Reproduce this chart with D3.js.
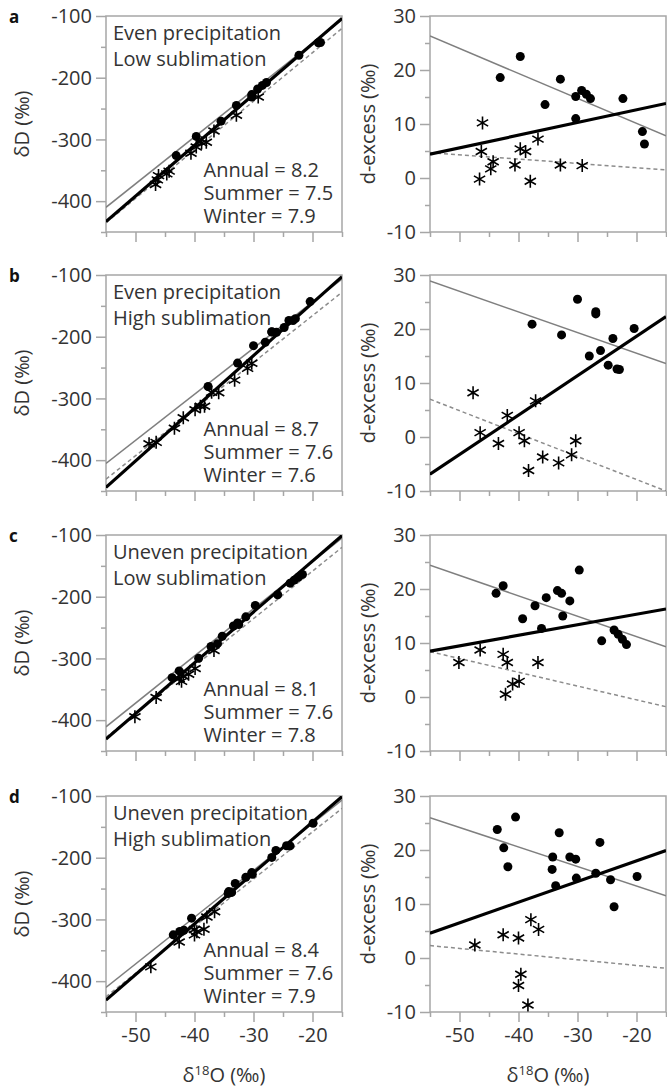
<!DOCTYPE html>
<html>
<head>
<meta charset="utf-8">
<script src="https://cdn.jsdelivr.net/npm/d3@7"></script>
<style>
  body { margin: 0; background: #fff; }
  svg text { font-family: "Open Sans", "Noto Sans", sans-serif; fill: #333; }
</style>
</head>
<body>
<svg id="chart" width="667" height="1088"></svg>
<script>
// panel labels and texts
const panelLetters = ['a', 'b', 'c', 'd'];
const precipLabels = ['Even precipitation', 'Even precipitation', 'Uneven precipitation', 'Uneven precipitation'];
const sublimLabels = ['Low sublimation', 'High sublimation', 'Low sublimation', 'High sublimation'];
const slopeAnnual = ['8.2', '8.7', '8.1', '8.4'];
const slopeSummer = ['7.5', '7.6', '7.6', '7.6'];
const slopeWinter = ['7.9', '7.6', '7.8', '7.9'];

// tick values
const xTicks = [-55, -50, -45, -40, -35, -30, -25, -20, -15];
const xLabels = [-50, -40, -30, -20];
const ddTicks = [-450, -400, -350, -300, -250, -200, -150, -100];
const ddLabels = [-400, -300, -200, -100];
const dexTicks = [-10, -5, 0, 5, 10, 15, 20, 25, 30];
const dexLabels = [-10, 0, 10, 20, 30];

// [d18O, dD] summer (circles) and winter (asterisks)
const ddSummerA = [[-43.1,-326.2],[-39.7,-295.1],[-35.5,-270.4],[-32.9,-244.9],[-30.3,-227.3],[-30.3,-231.4],[-29.3,-218.2],[-28.5,-212.5],[-27.8,-207.7],[-22.3,-163.7],[-19.0,-143.4],[-18.65,-142.9]];
const ddWinterA = [[-46.1,-358.6],[-46.3,-365.5],[-46.6,-373.0],[-44.3,-351.4],[-44.7,-355.9],[-40.6,-322.4],[-39.7,-312.2],[-38.8,-305.5],[-38.0,-304.6],[-36.7,-286.4],[-32.9,-260.8],[-29.2,-231.3]];
const ddSummerB = [[-37.7,-280.7],[-32.7,-242.7],[-30.0,-214.5],[-26.9,-192.0],[-26.9,-192.4],[-28.0,-209.0],[-26.1,-192.8],[-24.0,-173.8],[-24.8,-185.1],[-23.3,-173.8],[-22.9,-170.7],[-20.4,-143.1]];
const ddWinterB = [[-47.7,-373.4],[-46.5,-371.2],[-43.4,-348.4],[-41.9,-331.2],[-39.9,-318.4],[-39.0,-312.7],[-38.3,-312.6],[-37.1,-290.1],[-35.9,-290.9],[-33.2,-270.4],[-31.0,-251.3],[-30.3,-243.1]];
const ddSummerC = [[-43.8,-331.2],[-42.6,-320.2],[-39.3,-299.9],[-37.2,-280.7],[-36.1,-276.1],[-35.3,-264.0],[-33.4,-247.5],[-32.7,-242.4],[-32.5,-245.0],[-31.3,-232.6],[-29.7,-214.1],[-25.9,-196.8],[-23.8,-178.0],[-23.1,-173.2],[-22.4,-168.5],[-21.7,-163.9]];
const ddWinterC = [[-50.1,-394.4],[-46.5,-363.3],[-42.6,-332.9],[-41.9,-328.8],[-42.2,-337.1],[-41.0,-325.6],[-39.9,-316.3],[-36.7,-287.2]];
const ddSummerD = [[-43.6,-325.0],[-42.5,-319.6],[-41.8,-317.5],[-40.5,-297.9],[-33.1,-241.6],[-34.2,-254.9],[-34.3,-258.0],[-33.7,-256.2],[-31.3,-231.7],[-30.3,-224.1],[-30.2,-226.8],[-26.9,-199.5],[-26.2,-188.2],[-24.4,-180.7],[-23.8,-180.9],[-19.9,-144.1]];
const ddWinterD = [[-47.4,-376.8],[-42.6,-336.5],[-40.0,-316.3],[-37.9,-296.1],[-36.6,-287.5],[-39.6,-319.8],[-40.0,-325.1],[-38.4,-315.9]];

// [d18O, d-excess]
const dexSummerA = [[-43.1,18.6],[-39.7,22.5],[-35.5,13.6],[-32.9,18.3],[-30.3,15.1],[-30.3,11.0],[-29.3,16.2],[-28.5,15.5],[-27.8,14.7],[-22.3,14.7],[-19.0,8.6],[-18.65,6.3]];
const dexWinterA = [[-46.1,10.2],[-46.3,4.9],[-46.6,-0.2],[-44.3,3.0],[-44.7,1.7],[-40.6,2.4],[-39.7,5.4],[-38.8,4.9],[-38.0,-0.6],[-36.7,7.2],[-32.9,2.4],[-29.2,2.3]];
const dexSummerB = [[-37.7,20.9],[-32.7,18.9],[-30.0,25.5],[-26.9,23.2],[-26.9,22.8],[-28.0,15.0],[-26.1,16.0],[-24.0,18.25],[-24.8,13.3],[-23.3,12.6],[-22.9,12.5],[-20.4,20.1]];
const dexWinterB = [[-47.7,8.2],[-46.5,0.8],[-43.4,-1.2],[-41.9,4.0],[-39.9,0.8],[-39.0,-0.7],[-38.3,-6.2],[-37.1,6.7],[-35.9,-3.7],[-33.2,-4.8],[-31.0,-3.3],[-30.3,-0.7]];
const dexSummerC = [[-43.8,19.2],[-42.6,20.6],[-39.3,14.5],[-37.2,16.9],[-36.1,12.7],[-35.3,18.4],[-33.4,19.7],[-32.7,19.2],[-32.5,15.0],[-31.3,17.8],[-29.7,23.5],[-25.9,10.4],[-23.8,12.4],[-23.1,11.6],[-22.4,10.7],[-21.7,9.7]];
const dexWinterC = [[-50.1,6.4],[-46.5,8.7],[-42.6,7.9],[-41.9,6.4],[-42.2,0.5],[-41.0,2.4],[-39.9,2.9],[-36.7,6.4]];
const dexSummerD = [[-43.6,23.8],[-42.5,20.4],[-41.8,16.9],[-40.5,26.1],[-33.1,23.2],[-34.2,18.7],[-34.3,16.4],[-33.7,13.4],[-31.3,18.7],[-30.3,18.3],[-30.2,14.8],[-26.9,15.7],[-26.2,21.4],[-24.4,14.5],[-23.8,9.5],[-19.9,15.1]];
const dexWinterD = [[-47.4,2.4],[-42.6,4.3],[-40.0,3.7],[-37.9,7.1],[-36.6,5.3],[-39.6,-3.0],[-40.0,-5.1],[-38.4,-8.7]];

// fitted lines: value at d18O = -55 and at -15
const ddFitAnnual = [[-433, -103.8], [-444, -102.7], [-430.8, -101], [-430.8, -101]];
const ddFitSummer = [[-410, -106], [-405.4, -106.5], [-410.8, -104.9], [-410.3, -106.5]];
const ddFitWinter = [[-435, -120], [-430.8, -128], [-428, -120], [-425.4, -120]];
const dexFitAnnual = [[4.4, 13.8], [-6.9, 22.3], [8.5, 16.3], [4.6, 19.9]];
const dexFitSummer = [[26.3, 7.8], [28.9, 13.6], [24.4, 9.3], [26.0, 11.5]];
const dexFitWinter = [[4.7, 1.5], [7.0, -10.0], [8.4, -1.8], [2.3, -1.9]];

const ddSummer = [ddSummerA, ddSummerB, ddSummerC, ddSummerD];
const ddWinter = [ddWinterA, ddWinterB, ddWinterC, ddWinterD];
const dexSummer = [dexSummerA, dexSummerB, dexSummerC, dexSummerD];
const dexWinter = [dexWinterA, dexWinterB, dexWinterC, dexWinterD];

const tops = [16, 275, 535, 796];
const plotH = 216;
const axisColor = '#a6a6a6';

let svg = d3.select('#chart');

// asterisk marker, 3 strokes through the centre
function asterisk(r) {
	let a = r * Math.cos(Math.PI / 6), b = r * Math.sin(Math.PI / 6);
	return `M0,${-r}L0,${r}M${-a},${-b}L${a},${b}M${-a},${b}L${a},${-b}`;
}

function drawPanel(g, i, left, right, yDomain, yTicks, yLabels, summer, winter, fits, withXLabels, clipId) {
	let top = tops[i];
	let x = d3.scaleLinear().domain([-55, -15]).range([left, right]);
	let y = d3.scaleLinear().domain(yDomain).range([top + plotH, top]);

	// frame
	g.append('rect')
		.attr('x', left).attr('y', top)
		.attr('width', right - left).attr('height', plotH)
		.attr('fill', 'none').attr('stroke', axisColor).attr('stroke-width', 1.5);

	// y axis ticks
	let yAx = g.append('g').attr('transform', `translate(${left},0)`)
		.call(d3.axisLeft(y).tickValues(yTicks).tickSizeOuter(0)
			.tickSize(5).tickPadding(6)
			.tickFormat(d => yLabels.includes(d) ? d3.format('')(d).replace('−', '-') : ''));
	yAx.select('.domain').remove();
	yAx.selectAll('.tick line').attr('stroke', axisColor).attr('stroke-width', 1.5)
		.attr('x2', d => yLabels.includes(d) ? -10 : -5);
	yAx.selectAll('.tick text').attr('x', -14).attr('dy', '0.34em')
		.style('font-size', '20px').style('fill', '#333');

	// x axis ticks
	let xAx = g.append('g').attr('transform', `translate(0,${top + plotH})`)
		.call(d3.axisBottom(x).tickValues(xTicks).tickSizeOuter(0)
			.tickSize(5)
			.tickFormat(d => withXLabels && xLabels.includes(d) ? String(d) : ''));
	xAx.select('.domain').remove();
	xAx.selectAll('.tick line').attr('stroke', axisColor).attr('stroke-width', 1.5)
		.attr('y2', d => d % 10 === 0 ? 10 : 5);
	xAx.selectAll('.tick text').attr('y', 16).attr('dy', '0.71em')
		.style('font-size', '20px').style('fill', '#333');

	// clip to plot area
	svg.select('defs').append('clipPath').attr('id', clipId)
		.append('rect').attr('x', left).attr('y', top).attr('width', right - left).attr('height', plotH);
	let plot = g.append('g').attr('clip-path', `url(#${clipId})`);

	let line = d3.line().x(d => x(d[0])).y(d => y(d[1]));
	let fitPts = f => [[-55, f[0]], [-15, f[1]]];

	plot.append('path').attr('d', line(fitPts(fits.summer)))
		.attr('stroke', '#7f7f7f').attr('stroke-width', 1.5).attr('fill', 'none');
	plot.append('path').attr('d', line(fitPts(fits.winter)))
		.attr('stroke', '#8c8c8c').attr('stroke-width', 1.5).attr('stroke-dasharray', '4,3').attr('fill', 'none');

	plot.selectAll('.summer').data(summer).enter()
		.append('circle').attr('class', 'summer')
		.attr('cx', d => x(d[0])).attr('cy', d => y(d[1]))
		.attr('r', 4.5).attr('fill', '#000');

	plot.selectAll('.winter').data(winter).enter()
		.append('path').attr('class', 'winter')
		.attr('transform', d => `translate(${x(d[0])},${y(d[1])})`)
		.attr('d', asterisk(6.5))
		.attr('stroke', '#000').attr('stroke-width', 1.6).attr('fill', 'none');

	plot.append('path').attr('d', line(fitPts(fits.annual)))
		.attr('stroke', '#000').attr('stroke-width', 3.2).attr('fill', 'none');
}

svg.append('defs');

panelLetters.forEach((letter, i) => {
	let top = tops[i];
	let g = svg.append('g');
	let last = i === panelLetters.length - 1;

	drawPanel(g, i, 106, 342, [-450, -100], ddTicks, ddLabels, ddSummer[i], ddWinter[i],
		{annual: ddFitAnnual[i], summer: ddFitSummer[i], winter: ddFitWinter[i]}, last, 'clipL' + i);
	drawPanel(g, i, 430, 666, [-10, 30], dexTicks, dexLabels, dexSummer[i], dexWinter[i],
		{annual: dexFitAnnual[i], summer: dexFitSummer[i], winter: dexFitWinter[i]}, last, 'clipR' + i);

	// panel letter
	g.append('text').attr('x', 9).attr('y', top + 6.5)
		.style('font-size', '17px').style('font-weight', 'bold').style('fill', '#111')
		.text(letter);

	// scenario text
	g.append('text').attr('x', 113).attr('y', top + 23.5).style('font-size', '20px').text(precipLabels[i]);
	g.append('text').attr('x', 113).attr('y', top + 50).style('font-size', '20px').text(sublimLabels[i]);

	// slopes
	g.append('text').attr('x', 203.5).attr('y', top + 160.5).style('font-size', '20px').text('Annual = ' + slopeAnnual[i]);
	g.append('text').attr('x', 203.5).attr('y', top + 184).style('font-size', '20px').text('Summer = ' + slopeSummer[i]);
	g.append('text').attr('x', 203.5).attr('y', top + 207).style('font-size', '20px').text('Winter = ' + slopeWinter[i]);

	// y titles
	g.append('text').attr('transform', `translate(29,${top + plotH / 2}) rotate(-90)`)
		.attr('text-anchor', 'middle').style('font-size', '20px').text('δD (‰)');
	g.append('text').attr('transform', `translate(375,${top + plotH / 2}) rotate(-90)`)
		.attr('text-anchor', 'middle').style('font-size', '20px').text('d-excess (‰)');
});

// x titles
[224, 548].forEach(cx => {
	let t = svg.append('text').attr('x', cx).attr('y', 1082)
		.attr('text-anchor', 'middle').style('font-size', '20px');
	t.append('tspan').text('δ');
	t.append('tspan').attr('dy', -7).style('font-size', '13px').text('18');
	t.append('tspan').attr('dy', 7).text('O (‰)');
});
</script>
</body>
</html>
